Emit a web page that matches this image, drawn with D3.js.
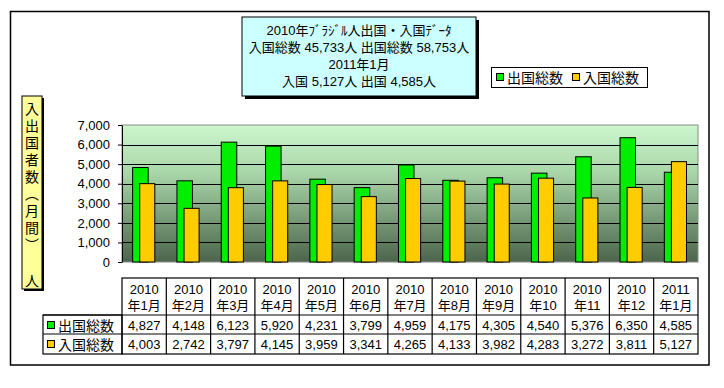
<!DOCTYPE html>
<html>
<head>
<meta charset="utf-8">
<script src="https://cdn.jsdelivr.net/npm/d3@7"></script>
<style>
  body { margin: 0; background: #fff; }
  svg text { font-family: "Liberation Sans", "Noto Sans CJK JP", sans-serif; fill: #000; }
</style>
</head>
<body>
<svg id="chart" width="724" height="388"></svg>
<script>
// Chart data
const years = ["2010", "2010", "2010", "2010", "2010", "2010", "2010", "2010", "2010", "2010", "2010", "2010", "2011"];
const months = ["年1月", "年2月", "年3月", "年4月", "年5月", "年6月", "年7月", "年8月", "年9月", "年10", "年11", "年12", "年1月"];
const outbound = [4827, 4148, 6123, 5920, 4231, 3799, 4959, 4175, 4305, 4540, 5376, 6350, 4585];
const inbound = [4003, 2742, 3797, 4145, 3959, 3341, 4265, 4133, 3982, 4283, 3272, 3811, 5127];
const yTicks = [0, 1000, 2000, 3000, 4000, 5000, 6000, 7000];
const seriesNames = ["出国総数", "入国総数"];
const titleLines = [
  "2010年ﾌﾞﾗｼﾞﾙ人出国・入国ﾃﾞｰﾀ",
  "入国総数 45,733人 出国総数 58,753人",
  "2011年1月",
  "入国 5,127人 出国 4,585人"
];
const yTitleChars = ["入", "出", "国", "者", "数", "︵", "月", "間", "︶"];

const green = "#00ee00";
const yellow = "#ffcc00";

const svg = d3.select("#chart");

// Outer frame
svg.append("rect")
  .attr("x", 10.5).attr("y", 11.5)
  .attr("width", 698.5).attr("height", 353.5)
  .attr("fill", "#fff").attr("stroke", "#000").attr("stroke-width", 1.5);

// Plot area scales
const plot = { left: 122, right: 698, top: 125, bottom: 262 };
const x = d3.scaleBand()
  .domain(d3.range(years.length))
  .range([plot.left, plot.right])
  .paddingInner(0);
const y = d3.scaleLinear()
  .domain([0, 7000])
  .range([plot.bottom, plot.top]);

// Gradient background
const grad = svg.append("defs").append("linearGradient")
  .attr("id", "bg").attr("x1", 0).attr("y1", 0).attr("x2", 0).attr("y2", 1);
grad.append("stop").attr("offset", "0%").attr("stop-color", "#cdf6cd");
grad.append("stop").attr("offset", "35%").attr("stop-color", "#a9d6a9");
grad.append("stop").attr("offset", "70%").attr("stop-color", "#769876");
grad.append("stop").attr("offset", "100%").attr("stop-color", "#4c654c");

svg.append("rect")
  .attr("x", plot.left).attr("y", plot.top)
  .attr("width", plot.right - plot.left).attr("height", plot.bottom - plot.top)
  .attr("fill", "url(#bg)")
  .attr("stroke", "#8a8a8a").attr("stroke-width", 1);

// Gridlines
svg.append("g")
  .selectAll("line")
  .data(yTicks.filter(d => d > 0 && d < 7000))
  .join("line")
  .attr("x1", plot.left).attr("x2", plot.right)
  .attr("y1", d => Math.round(y(d)) + 0.5).attr("y2", d => Math.round(y(d)) + 0.5)
  .attr("stroke", "#000").attr("stroke-width", 1);

// Y axis
const yAxis = svg.append("g")
  .attr("transform", `translate(${plot.left},0)`)
  .call(d3.axisLeft(y).tickValues(yTicks).tickFormat(d3.format(",")).tickSize(4).tickSizeOuter(0).tickPadding(8));
yAxis.selectAll("text").style("font-size", "13px");
yAxis.select(".domain").attr("stroke", "#000");

// Bars
const bw = x.bandwidth();
svg.append("g")
  .selectAll("rect")
  .data(outbound)
  .join("rect")
  .attr("x", (d, i) => x(i) + bw * 0.24)
  .attr("y", d => y(d))
  .attr("width", bw * 0.35)
  .attr("height", d => y(0) - y(d))
  .attr("fill", green).attr("stroke", "#000").attr("stroke-width", 1);

svg.append("g")
  .selectAll("rect")
  .data(inbound)
  .join("rect")
  .attr("x", (d, i) => x(i) + bw * 0.40)
  .attr("y", d => y(d))
  .attr("width", bw * 0.34)
  .attr("height", d => y(0) - y(d))
  .attr("fill", yellow).attr("stroke", "#000").attr("stroke-width", 1);

// Data table
const table = { labelLeft: 43, headTop: 278, row1: 315, row2: 334, bottom: 354 };
const tg = svg.append("g").attr("stroke", "#000").attr("stroke-width", 1.2);
tg.append("rect")
  .attr("x", plot.left).attr("y", table.headTop)
  .attr("width", plot.right - plot.left).attr("height", table.bottom - table.headTop)
  .attr("fill", "none");
tg.append("rect")
  .attr("x", table.labelLeft).attr("y", table.row1)
  .attr("width", plot.left - table.labelLeft).attr("height", table.bottom - table.row1)
  .attr("fill", "none");
tg.selectAll(".vline")
  .data(d3.range(1, years.length))
  .join("line")
  .attr("x1", i => x(i)).attr("x2", i => x(i))
  .attr("y1", table.headTop).attr("y2", table.bottom);
[table.row1, table.row2].forEach(yy => {
  tg.append("line")
    .attr("x1", table.labelLeft).attr("x2", plot.right)
    .attr("y1", yy).attr("y2", yy);
});

const cellText = svg.append("g").style("font-size", "13px").attr("text-anchor", "middle");
cellText.selectAll(".yr").data(years).join("text")
  .attr("x", (d, i) => x(i) + bw / 2).attr("y", 294).text(d => d);
cellText.selectAll(".mo").data(months).join("text")
  .attr("x", (d, i) => x(i) + bw / 2).attr("y", 310).text(d => d);
cellText.selectAll(".out").data(outbound).join("text")
  .attr("x", (d, i) => x(i) + bw / 2).attr("y", 330).text(d => d3.format(",")(d));
cellText.selectAll(".in").data(inbound).join("text")
  .attr("x", (d, i) => x(i) + bw / 2).attr("y", 349).text(d => d3.format(",")(d));

// Row labels with keys
[[table.row1, green, seriesNames[0]], [table.row2, yellow, seriesNames[1]]].forEach(([top, col, name]) => {
  svg.append("rect")
    .attr("x", 47.5).attr("y", top + 6.5).attr("width", 7).attr("height", 7)
    .attr("fill", col).attr("stroke", "#000").attr("stroke-width", 1);
  svg.append("text")
    .attr("x", 58).attr("y", top + 15.5)
    .style("font-size", "14px")
    .text(name);
});

// Title box
const tb = { x: 242, y: 17, w: 234, h: 79 };
svg.append("rect").attr("x", tb.x + 3).attr("y", tb.y + 3).attr("width", tb.w).attr("height", tb.h).attr("fill", "#000");
svg.append("rect").attr("x", tb.x).attr("y", tb.y).attr("width", tb.w).attr("height", tb.h)
  .attr("fill", "#ccffff").attr("stroke", "#000").attr("stroke-width", 1);
svg.append("g").attr("text-anchor", "middle").style("font-size", "13px")
  .selectAll("text").data(titleLines).join("text")
  .attr("x", tb.x + tb.w / 2)
  .attr("y", (d, i) => 35 + i * 17)
  .text(d => d);

// Legend
const lg = { x: 491.5, y: 67.5, w: 156, h: 20 };
svg.append("rect").attr("x", lg.x).attr("y", lg.y).attr("width", lg.w).attr("height", lg.h)
  .attr("fill", "#fff").attr("stroke", "#000").attr("stroke-width", 1);
[[496.5, green, seriesNames[0], 507], [572.5, yellow, seriesNames[1], 583]].forEach(([sx, col, name, tx]) => {
  svg.append("rect").attr("x", sx).attr("y", 73.5).attr("width", 7).attr("height", 7)
    .attr("fill", col).attr("stroke", "#000").attr("stroke-width", 1);
  svg.append("text").attr("x", tx).attr("y", 82.5).style("font-size", "14px").text(name);
});

// Y axis title box (vertical text)
const yb = { x: 22, y: 96, w: 20, h: 193 };
svg.append("rect").attr("x", yb.x + 2).attr("y", yb.y + 2).attr("width", yb.w).attr("height", yb.h).attr("fill", "#000");
svg.append("rect").attr("x", yb.x).attr("y", yb.y).attr("width", yb.w).attr("height", yb.h)
  .attr("fill", "#ffff99").attr("stroke", "#000").attr("stroke-width", 1);
const yt = svg.append("g").attr("text-anchor", "middle").style("font-size", "14px");
yt.selectAll("text").data(yTitleChars).join("text")
  .attr("x", yb.x + yb.w / 2)
  .attr("y", (d, i) => 114 + i * 17)
  .text(d => d);
yt.append("text").attr("x", yb.x + yb.w / 2).attr("y", 286).text("人");
</script>
</body>
</html>
